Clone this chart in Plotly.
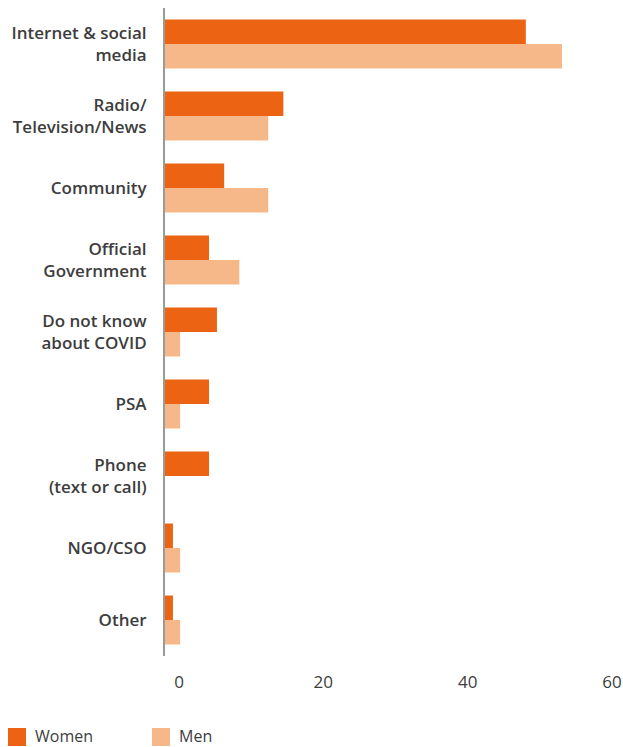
import plotly.graph_objects as go

# Sources of COVID-19 information, by gender (%)
categories = [
    "Internet & social<br>media",
    "Radio/<br>Television/News",
    "Community",
    "Official<br>Government",
    "Do not know<br>about COVID",
    "PSA",
    "Phone<br>(text or call)",
    "NGO/CSO",
    "Other",
]
women = [50, 16.4, 8.2, 6.1, 7.2, 6.1, 6.1, 1.1, 1.1]
men = [55, 14.3, 14.3, 10.3, 2.1, 2.1, 0, 2.1, 2.1]
x_ticks = [0, 20, 40, 60]
series_names = ["Women", "Men"]

WOMEN_COLOR = "#EC6413"
MEN_COLOR = "#F6B889"
TEXT_COLOR = "#3d3d3d"
FONT = "Open Sans"

W, H = 623, 747
ML, MR, MT, MB = 165, 25, 8, 91
plot_w = W - ML - MR
plot_h = H - MT - MB

fig = go.Figure()
fig.add_trace(go.Bar(y=categories, x=women, name=series_names[0], orientation="h",
                     marker=dict(color=WOMEN_COLOR, line=dict(width=0))))
fig.add_trace(go.Bar(y=categories, x=men, name=series_names[1], orientation="h",
                     marker=dict(color=MEN_COLOR, line=dict(width=0))))

# Legend drawn as square swatches with labels below the plot
def px_to_paper_x(px):
    return (px - ML) / plot_w

def px_to_paper_y(py):
    return (H - MB - py) / plot_h

legend_items = [(series_names[0], WOMEN_COLOR, 8), (series_names[1], MEN_COLOR, 152)]
for name, color, left in legend_items:
    fig.add_shape(type="rect", xref="paper", yref="paper",
                  x0=px_to_paper_x(left), x1=px_to_paper_x(left + 18),
                  y0=px_to_paper_y(746), y1=px_to_paper_y(728),
                  fillcolor=color, line=dict(width=0))
    fig.add_annotation(xref="paper", yref="paper", x=px_to_paper_x(left + 26),
                       y=px_to_paper_y(736), text=name, showarrow=False,
                       xanchor="left", yanchor="middle", borderpad=0,
                       font=dict(family=FONT, size=16, color=TEXT_COLOR))

fig.update_layout(
    width=W, height=H,
    margin=dict(l=ML, r=MR, t=MT, b=MB, autoexpand=False),
    plot_bgcolor="white", paper_bgcolor="white",
    barmode="group", bargap=0.32, bargroupgap=0,
    font=dict(family=FONT, color=TEXT_COLOR, size=16),
    showlegend=False,
)
fig.update_xaxes(range=[0, 60], tickvals=x_ticks, showgrid=False, zeroline=False,
                 showline=False, ticks="", ticklabelshift=14, ticklabelstandoff=14,
                 automargin=False, tickfont=dict(size=17, color=TEXT_COLOR))
fig.update_yaxes(autorange="reversed", showgrid=False, zeroline=False,
                 showline=True, linecolor="#9a9a9a", linewidth=2, ticks="",
                 ticklabelstandoff=13, automargin=False,
                 tickfont=dict(size=17, color=TEXT_COLOR, weight=600))

fig.write_html("out.html")
